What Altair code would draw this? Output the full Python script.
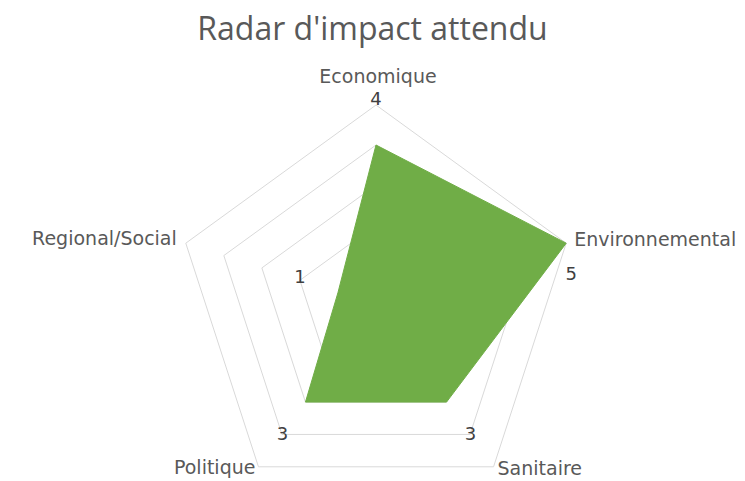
import math
import altair as alt
import pandas as pd

title_text = "Radar d'impact attendu"
categories = ["Economique", "Environnemental", "Sanitaire", "Politique", "Regional/Social"]
values = [4, 5, 3, 3, 1]
value_labels = ["4", "5", "3", "3", "1"]
levels = [1, 2, 3, 4, 5]
max_level = 5

n = len(categories)


def pos(i, r):
    a = math.pi / 2 - 2 * math.pi * i / n
    return r * math.cos(a), r * math.sin(a)


grid_rows = []
for lv in levels:
    for i in range(n):
        x, y = pos(i, lv)
        grid_rows.append({"level": lv, "k": i, "x": x, "y": y})
grid_df = pd.DataFrame(grid_rows)

poly_rows = []
for i, (c, v) in enumerate(zip(categories, values)):
    x, y = pos(i, v)
    poly_rows.append({"cat": c, "k": i, "x": x, "y": y, "v": v, "lab": value_labels[i]})
poly_df = pd.DataFrame(poly_rows)

cat_rows = []
for i, c in enumerate(categories):
    x, y = pos(i, max_level)
    cat_rows.append({"cat": c, "x": x, "y": y})
cat_df = pd.DataFrame(cat_rows)

xs = alt.Scale(domain=[-9.2, 9.025], nice=False, zero=False)
ys = alt.Scale(domain=[-4.2, 6.175], nice=False, zero=False)
X = alt.X("x:Q", scale=xs, axis=None)
Y = alt.Y("y:Q", scale=ys, axis=None)

grid = alt.Chart(grid_df).mark_line(
    interpolate="linear-closed", stroke="#D9D9D9", strokeWidth=1
).encode(x=X, y=Y, detail="level:N", order="k:Q")

poly = alt.Chart(poly_df).mark_line(
    interpolate="linear-closed", fill="#70AD47", stroke="#70AD47", strokeWidth=1
).encode(x=X, y=Y, order="k:Q")

# category label styles: (align, dx, dy)
cat_style = {
    "Economique": ("center", 2, -28),
    "Environnemental": ("left", 8, -3),
    "Sanitaire": ("left", 4, 2),
    "Politique": ("right", -3, 1),
    "Regional/Social": ("right", -9, -4),
}
val_style = {
    "Economique": (0, -45),
    "Environnemental": (5, 32),
    "Sanitaire": (24, 33),
    "Politique": (-23, 33),
    "Regional/Social": (-38, -15),
}

layers = [grid, poly]
for c in categories:
    al, dx, dy = cat_style[c]
    layers.append(
        alt.Chart(cat_df).transform_filter(alt.datum.cat == c).mark_text(
            align=al, baseline="middle", dx=dx, dy=dy, fontSize=19,
            font="DejaVu Sans", color="#595959"
        ).encode(x=X, y=Y, text="cat:N")
    )
    vdx, vdy = val_style[c]
    layers.append(
        alt.Chart(poly_df).transform_filter(alt.datum.cat == c).mark_text(
            align="center", baseline="middle", dx=vdx, dy=vdy, fontSize=18,
            font="DejaVu Sans", color="#404040"
        ).encode(x=X, y=Y, text="lab:N")
    )

chart = alt.layer(*layers).properties(
    width=729,
    height=415,
    autosize=alt.AutoSizeParams(type="none"),
    padding={"left": 0, "top": 50, "right": 0, "bottom": 8},
    title=alt.TitleParams(
        title_text, fontSize=32, font="Open Sans", fontWeight="normal",
        color="#595959", anchor="middle", offset=11
    ),
).configure_view(stroke=None)

chart.save("out.html", embed_options={"renderer": "svg", "actions": False})
